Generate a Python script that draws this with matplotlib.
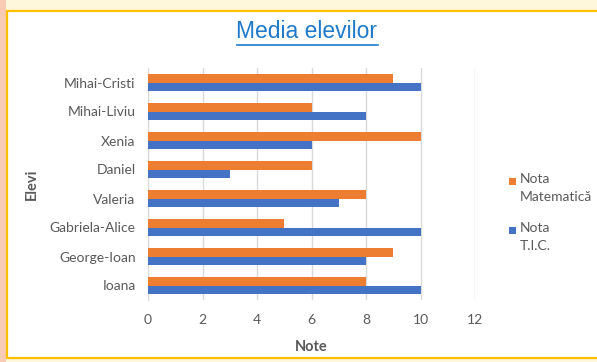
import matplotlib.pyplot as plt
from matplotlib.patches import Rectangle
from matplotlib.lines import Line2D
import numpy as np

plt.rcParams['font.family'] = ['Lato', 'DejaVu Sans']

elevi = ['Ioana', 'George-Ioan', 'Gabriela-Alice', 'Valeria', 'Daniel',
         'Xenia', 'Mihai-Liviu', 'Mihai-Cristi']
nota_mate = [8, 9, 5, 8, 6, 10, 6, 9]
nota_tic = [10, 8, 10, 7, 3, 6, 8, 10]
xticks = [0, 2, 4, 6, 8, 10, 12]
serii = ['Nota\nMatematică', 'Nota\nT.I.C.']
culori = ['#ED7D31', '#4472C4']

W, H = 597, 362
fig = plt.figure(figsize=(W / 100, H / 100), dpi=100, facecolor='#FEF7DC')

# fundal alb cu chenar galben
fig.patches.append(Rectangle((0, 0), 6 / W, 1, transform=fig.transFigure,
                             facecolor='#F8CBB4', edgecolor='none', zorder=-2))
fig.patches.append(Rectangle((7 / W, 4 / H), 1, (358 - 11) / H, transform=fig.transFigure,
                             facecolor='white', edgecolor='#FFC000', lw=1.6, zorder=-1))

ax = fig.add_axes([148 / W, 62 / H, 327 / W, 232 / H])
ax.set_facecolor('white')

y = np.arange(len(elevi))
h = 0.31
ax.barh(y + h / 2, nota_mate, height=h, color=culori[0], zorder=3)
ax.barh(y - h / 2, nota_tic, height=h, color=culori[1], zorder=3)

ax.set_xlim(0, 12)
ax.set_ylim(-0.5, len(elevi) - 0.5)
ax.set_xticks(xticks)
ax.set_yticks(y)
ax.set_yticklabels(elevi)
ax.grid(axis='x', color='#D9D9D9', lw=1, zorder=0)
for s in ['top', 'right', 'bottom']:
    ax.spines[s].set_visible(False)
ax.spines['left'].set_color('#D9D9D9')
ax.tick_params(length=0, labelsize=10, colors='#595959')
ax.tick_params(axis='x', pad=10)
ax.tick_params(axis='y', pad=9)

ax.set_xlabel('Note', fontsize=10.5, color='#595959', fontweight='bold', labelpad=10)
ax.set_ylabel('Elevi', fontsize=10.5, color='#595959', fontweight='bold', labelpad=8)

# legenda, ca in Excel: patratul aliniat cu primul rand
for i, (lab, c) in enumerate(zip(serii, culori)):
    yc = 1 - (181 + 49 * i) / H
    fig.patches.append(Rectangle((509 / W, yc - 3.5 / H), 7 / W, 7 / H,
                                 transform=fig.transFigure, facecolor=c, edgecolor='none'))
    fig.text(520 / W, yc + 8 / H, lab, ha='left', va='top', fontsize=10,
             color='#595959', linespacing=1.6)

title = fig.text(307 / W, 1 - 32 / H, 'Media elevilor', ha='center', va='center',
                 fontsize=16.5, color='#1F7ACB', family='Liberation Sans')
fig.canvas.draw()
bb = title.get_window_extent().transformed(fig.transFigure.inverted())
fig.lines.append(Line2D([bb.x0, bb.x1], [bb.y0 - 1.0 / H, bb.y0 - 1.0 / H],
                        transform=fig.transFigure, color='#1F7ACB', lw=1.2))

fig.savefig('out.png', dpi=100, facecolor=fig.get_facecolor())
